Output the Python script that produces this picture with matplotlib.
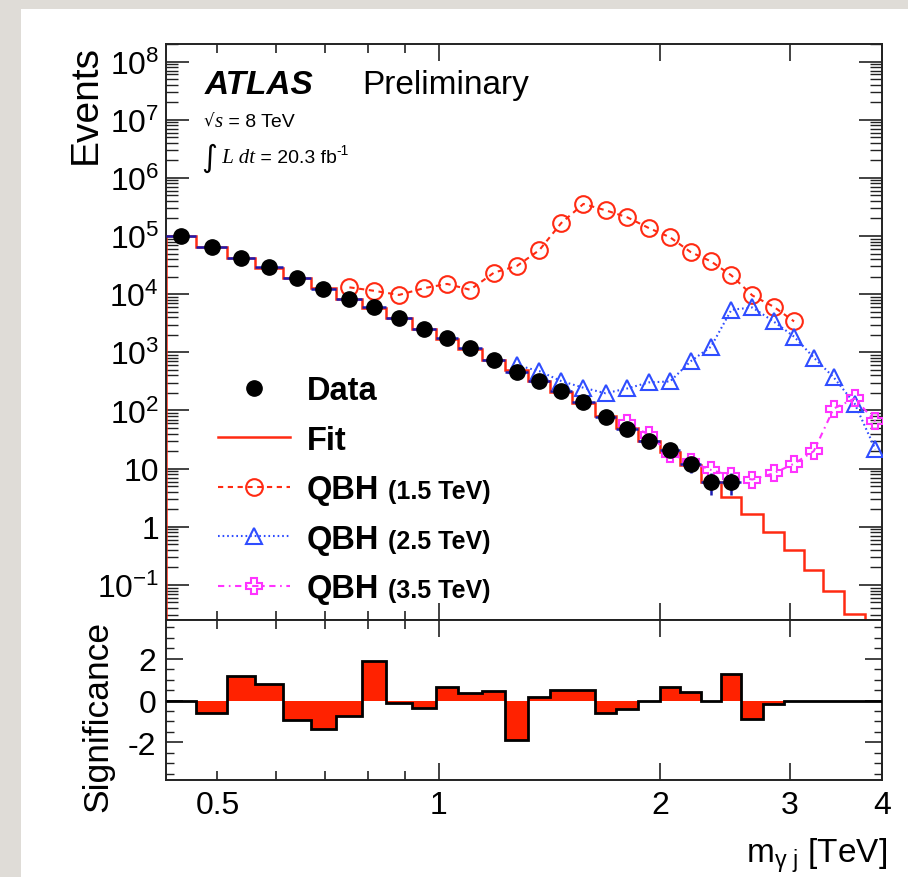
import numpy as np
import matplotlib
matplotlib.use('Agg')
import matplotlib.pyplot as plt
from matplotlib.lines import Line2D
from matplotlib.patches import Rectangle
from matplotlib.ticker import FixedLocator, FuncFormatter, LogLocator, NullFormatter, MultipleLocator

plt.rcParams['font.family'] = ['Liberation Sans', 'DejaVu Sans']
plt.rcParams['mathtext.fontset'] = 'custom'
plt.rcParams['mathtext.rm'] = 'Liberation Sans'
plt.rcParams['mathtext.it'] = 'Liberation Sans:italic'
plt.rcParams['mathtext.bf'] = 'Liberation Sans:bold'
plt.rcParams['axes.unicode_minus'] = False

# ---------------- data ----------------
bin_edges = [0.4256, 0.467, 0.515, 0.562, 0.613, 0.669, 0.724, 0.787, 0.847, 0.918,
             0.991, 1.06, 1.145, 1.231, 1.321, 1.416, 1.516, 1.627, 1.741, 1.863,
             1.994, 2.128, 2.267, 2.418, 2.576, 2.756, 2.942, 3.134, 3.328, 3.55,
             3.795, 4.04]

data_counts = [99000, 65000, 42000, 29000, 19000, 12400, 8300, 5900, 3900, 2500,
               1740, 1170, 750, 466, 326, 214, 138, 78, 48, 30, 21, 12, 6, 6]
data_err = [315, 255, 205, 170, 138, 111, 91, 77, 62, 50, 42, 34, 27, 22, 18,
            14.6, 11.7, 8.8, 6.9, 5.5, 4.6, 3.5, 2.45, 2.45]

fit_values = [100000, 65500, 41500, 28500, 19200, 12700, 8400, 5750, 3900, 2520,
              1720, 1160, 740, 495, 323, 205, 132, 80, 50, 30, 19, 11.5, 6.0, 3.25,
              1.63, 0.82, 0.396, 0.179, 0.078, 0.032]

significance = [0, -0.6, 1.19, 0.78, -0.93, -1.38, -0.76, 1.87, -0.1, -0.36, 0.63,
                0.34, 0.44, -1.87, 0.16, 0.52, 0.52, -0.6, -0.4, 0, 0.63, 0.39, 0,
                1.28, -0.89, -0.16, 0, 0, 0, 0, 0]

qbh15_first_bin = 6
qbh15_values = [13100, 11400, 9700, 12700, 15000, 11900, 23500, 30500, 57000, 167000,
                356000, 277000, 210000, 137000, 95000, 53000, 36600, 21000, 9500,
                6100, 3400]
qbh25_first_bin = 13
qbh25_values = [600, 476, 320, 246, 198, 239, 304, 316, 700, 1250, 5400, 5900, 3400,
                1860, 813, 371, 131, 21.5]
qbh35_first_bin = 18
qbh35_values = [62, 38, 18, 13, 9.5, 7.5, 6.5, 8.3, 12.2, 20, 108, 161, 65]

legend_labels = ['Data', 'Fit', 'QBH', 'QBH', 'QBH']
legend_suffix = ['(1.5 TeV)', '(2.5 TeV)', '(3.5 TeV)']
x_major = [1, 2, 3, 4]
x_minor = [0.5, 0.6, 0.7, 0.8, 0.9]
y_decades = list(range(-1, 9))

# ---------------- style ----------------
RED = '#ff2a12'
FILLRED = '#ff2200'
BLUE = '#2f4dff'
NAVY = '#1c1cb0'
MAGENTA = '#ff33ff'
SPINE = '#222222'

W, H = 908, 878
fig = plt.figure(figsize=(W / 100, H / 100), dpi=100, facecolor='#dfdcd7')
fig.patches.append(Rectangle((21 / W, 0), 1 - 21 / W, 1 - 10 / H,
                             transform=fig.transFigure, facecolor='white',
                             edgecolor='none', zorder=-10))

L, R = 166, 882
T_main, B_main, B_low = 45, 621, 781
ax = fig.add_axes([L / W, 1 - B_main / H, (R - L) / W, (B_main - T_main) / H])
axs = fig.add_axes([L / W, 1 - B_low / H, (R - L) / W, (B_low - B_main) / H])

edges = np.array(bin_edges)
centers = 0.5 * (edges[:-1] + edges[1:])

# fit
ax.stairs(fit_values, edges[:len(fit_values) + 1], baseline=1e-6, color=RED,
          lw=1.8, zorder=2)

# signals
def qbh(first, vals, color, ls, marker, ms):
    x = centers[first:first + len(vals)]
    ax.plot(x, vals, color=color, ls=ls, lw=1.5, marker=marker, ms=ms,
            mfc='none', mec=color, mew=1.5, zorder=3)

qbh(qbh15_first_bin, qbh15_values, RED, (0, (2.5, 2.2)), 'o', 12)
qbh(qbh25_first_bin, qbh25_values, BLUE, (0, (0.8, 1.4)), '^', 12)
qbh(qbh35_first_bin, qbh35_values, MAGENTA, (0, (3, 2.2, 0.8, 2.2)), 'P', 12)

# data
nd = len(data_counts)
xc = centers[:nd]
xerr = [xc - edges[:nd], edges[1:nd + 1] - xc]
ax.errorbar(xc, data_counts, xerr=xerr, yerr=data_err, fmt='o', ms=11,
            mfc='black', mec='black', ecolor=NAVY, elinewidth=1.8, capsize=0,
            zorder=5)

# significance
axs.stairs(significance, edges, baseline=0, fill=True, color=FILLRED, lw=0, zorder=2)
axs.stairs(significance, edges, baseline=None, color='black', lw=2.0, zorder=3)

# ---------------- axes ----------------
for a in (ax, axs):
    a.set_xscale('log')
    a.set_xlim(bin_edges[0], 4.0)
    for s in a.spines.values():
        s.set_color(SPINE)
        s.set_linewidth(1.4)
    a.xaxis.set_major_locator(FixedLocator(x_major))
    a.xaxis.set_minor_locator(FixedLocator(x_minor))
    a.tick_params(which='both', direction='in', top=True, right=True,
                  colors=SPINE, labelcolor='black', labelsize=23)
    a.tick_params(axis='x', which='major', length=12.5, width=1.2)
    a.tick_params(axis='x', which='minor', length=6.5, width=1.2)

ax.set_yscale('log')
ax.set_ylim(0.025, 2.0e8)
ax.yaxis.set_major_locator(FixedLocator([10.0 ** k for k in y_decades]))
ax.yaxis.set_minor_locator(LogLocator(base=10, subs=np.arange(2, 10), numticks=100))
ax.yaxis.set_minor_formatter(NullFormatter())

def ylab(v, pos):
    k = int(round(np.log10(v)))
    if k == 0:
        return '1'
    if k == 1:
        return '10'
    return r'$\mathregular{10^{%d}}$' % k

ax.yaxis.set_major_formatter(FuncFormatter(ylab))
ax.tick_params(axis='y', which='major', length=16.5, width=1.2, pad=5)
ax.tick_params(axis='y', which='minor', length=8.5, width=1.0)
ax.tick_params(axis='x', which='both', labelbottom=False)

axs.set_ylim(-3.8, 3.85)
axs.yaxis.set_major_locator(FixedLocator([-2, 0, 2]))
axs.yaxis.set_minor_locator(MultipleLocator(0.5))
axs.yaxis.set_major_formatter(FuncFormatter(lambda v, p: '%d' % v))
axs.tick_params(axis='y', which='major', length=12, width=1.2, pad=7)
axs.tick_params(axis='y', which='minor', length=6, width=1.0)
axs.xaxis.set_major_formatter(FuncFormatter(lambda v, p: '%g' % v))
axs.xaxis.set_minor_formatter(FuncFormatter(lambda v, p: '0.5' if abs(v - 0.5) < 1e-9 else ''))
axs.tick_params(axis='x', which='both', pad=7)

# axis titles
fig.text(104 / W, 1 - T_main / H, 'Events', rotation=90, ha='right', va='top',
         fontsize=28)
fig.text(114 / W, 1 - B_main / H, 'Significance', rotation=90, ha='right', va='top',
         fontsize=25.5)
fig.text(887 / W, 1 - 863 / H, r'm$_{\mathregular{\gamma\ j}}$ [TeV]', ha='right',
         va='baseline', fontsize=24)

# labels
fig.text(205 / W, 1 - 94 / H, 'ATLAS', fontsize=24, weight='bold', style='italic',
         va='baseline')
fig.text(362 / W, 1 - 94 / H, 'Preliminary', fontsize=24, va='baseline')

# legend
h_data = Line2D([], [], ls='none', marker='o', ms=11, color='black')
h_fit = Line2D([], [], color=RED, lw=1.8)
h15 = Line2D([], [], color=RED, ls=(0, (2.5, 2.2)), lw=1.5, marker='o', ms=12,
             mfc='none', mew=1.5)
h25 = Line2D([], [], color=BLUE, ls=(0, (0.8, 1.4)), lw=1.5, marker='^', ms=12,
             mfc='none', mew=1.5)
h35 = Line2D([], [], color=MAGENTA, ls=(0, (3, 2.2, 0.8, 2.2)), lw=1.5, marker='P',
             ms=12, mfc='none', mew=1.5)
leg = ax.legend([h_data, h_fit, h15, h25, h35], legend_labels, loc='upper left',
                bbox_to_anchor=(218 / W, 1 - 376 / H), bbox_transform=fig.transFigure,
                frameon=False, borderpad=0, borderaxespad=0, handlelength=2.2,
                handletextpad=0.52, labelspacing=0.57, numpoints=1,
                prop=dict(family='Liberation Sans', weight='bold', size=23.5))

fig.canvas.draw()
rend = fig.canvas.get_renderer()

for t, suf in zip(leg.get_texts()[2:], legend_suffix):
    bb = t.get_window_extent(rend)
    _, _, d = rend.get_text_width_height_descent('lp', t.get_fontproperties(), ismath=False)
    base = bb.y0 + d
    fig.text((bb.x1 + 9) / W, base / H, suf, fontsize=18, weight='bold', va='baseline')

def chain(items, x, ybase):
    for s, kw, dy in items:
        t = fig.text(x / W, 1 - (ybase - dy) / H, s, va='baseline', ha='left', **kw)
        bb = t.get_window_extent(rend)
        x = bb.x1

chain([('\u221a', dict(family='DejaVu Sans', fontsize=12), 0),
       ('s', dict(family='Liberation Serif', style='italic', fontsize=15), 0),
       (' = 8 TeV', dict(fontsize=14), 0)], 204, 127)
chain([('\u222b', dict(family='DejaVu Sans', fontsize=22), -4),
       (' L dt', dict(family='Liberation Serif', style='italic', fontsize=15), 0),
       (' = 20.3 fb', dict(fontsize=14), 0),
       ('-1', dict(fontsize=10), 8)], 201, 163)

fig.savefig('out.png', dpi=100, facecolor=fig.get_facecolor())
